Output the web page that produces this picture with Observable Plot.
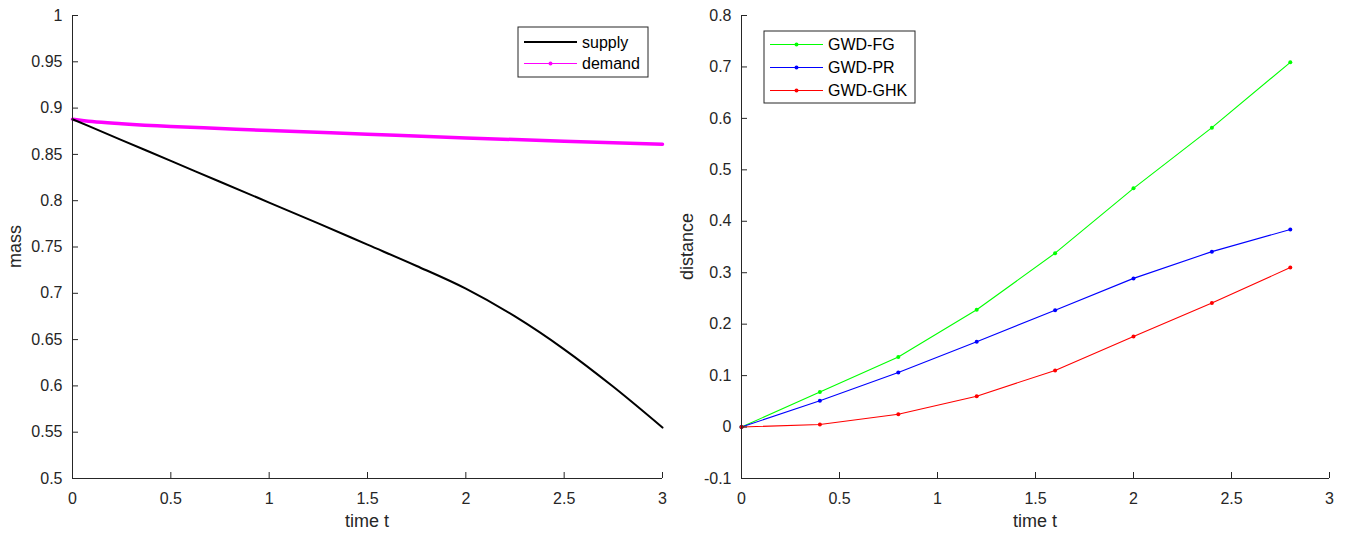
<!DOCTYPE html>
<html><head><meta charset="utf-8">
<script src="https://cdn.jsdelivr.net/npm/d3@7"></script>
<script src="https://cdn.jsdelivr.net/npm/@observablehq/plot@0.6"></script>
<style>
body{margin:0;background:#fff;}
#wrap{display:flex;width:1348px;height:535px;overflow:hidden;}
#wrap svg{display:block;flex:none;}
</style></head><body><div id="wrap"></div>
<script>
// ---- data ----
const tSupply = [0, 0.25, 0.5, 0.75, 1.0, 1.25, 1.5, 1.75, 2.0, 2.25, 2.5, 2.75, 3.0];
const supply  = [0.888, 0.8655, 0.843, 0.8205, 0.798, 0.7755, 0.7525, 0.7295, 0.705, 0.675, 0.6395, 0.599, 0.555];
const tDemand = [0, 0.1, 0.25, 0.5, 0.75, 1.0, 1.5, 2.0, 2.5, 3.0];
const demand  = [0.888, 0.8855, 0.8832, 0.8802, 0.878, 0.8758, 0.8718, 0.8678, 0.8642, 0.861];

const tDist  = [0, 0.4, 0.8, 1.2, 1.6, 2.0, 2.4, 2.8];
const gwdFG  = [0, 0.068, 0.136, 0.228, 0.338, 0.464, 0.582, 0.709];
const gwdPR  = [0, 0.051, 0.106, 0.166, 0.227, 0.289, 0.341, 0.384];
const gwdGHK = [0, 0.005, 0.025, 0.060, 0.110, 0.176, 0.241, 0.310];

const xTicks = [0, 0.5, 1, 1.5, 2, 2.5, 3];
const yTicksMass = [0.5, 0.55, 0.6, 0.65, 0.7, 0.75, 0.8, 0.85, 0.9, 0.95, 1];
const yTicksDist = [-0.1, 0, 0.1, 0.2, 0.3, 0.4, 0.5, 0.6, 0.7, 0.8];

const leftSeries  = [{name: "supply", color: "#000000", width: 2, dot: false},
                     {name: "demand", color: "#ff00ff", width: 1, dot: true}];
const rightSeries = [{name: "GWD-FG", color: "#00ff00", values: gwdFG},
                     {name: "GWD-PR", color: "#0000ff", values: gwdPR},
                     {name: "GWD-GHK", color: "#ff0000", values: gwdGHK}];

const FONT = "'Liberation Sans', Arial, Helvetica, sans-serif";
const AX = "#262626";
const W = 674, H = 535, MT = 15, MB = 57;

function panel(o) {
  const iw = W - o.ml - o.mr, ih = H - MT - MB;
  const svg = Plot.plot({
    width: W, height: H, marginTop: MT, marginBottom: MB, marginLeft: o.ml, marginRight: o.mr,
    style: {fontFamily: FONT, fontSize: "16px", color: AX, background: "#fff"},
    x: {domain: [0, 3]},
    y: {domain: o.yDomain},
    marks: [
      Plot.axisX({ticks: xTicks, tickSize: 0, tickPadding: 14, label: null, tickFormat: d => String(d), fill: AX, fontSize: 16}),
      Plot.axisY({ticks: o.yTicks, tickSize: 0, tickPadding: 10, label: null, tickFormat: d => String(d), fill: AX, fontSize: 16}),
      ...o.marks,
      Plot.tickX(xTicks, {x: d => d, stroke: AX, insetTop: ih - 6}),
      Plot.tickY(o.yTicks, {y: d => d, stroke: AX, insetRight: iw - 6}),
      Plot.ruleX([0], {stroke: AX}),
      Plot.ruleY([o.yDomain[0]], {stroke: AX})
    ]
  });
  const s = d3.select(svg);
  s.append("text").attr("x", o.ml + iw / 2).attr("y", 527).attr("text-anchor", "middle")
    .attr("fill", AX).style("font-size", "18px").style("font-family", FONT).text("time t");
  s.append("text").attr("transform", `translate(${o.ylabX},${MT + ih / 2}) rotate(-90)`)
    .attr("text-anchor", "middle").attr("fill", AX).style("font-size", "18px").style("font-family", FONT).text(o.ylabel);
  // legend
  const L = o.legend;
  const g = s.append("g").attr("text-anchor", "start");
  g.append("rect").attr("x", L.x).attr("y", L.y).attr("width", L.w).attr("height", L.h)
    .attr("fill", "#fff").attr("stroke", AX).attr("stroke-width", 1);
  L.items.forEach((it, i) => {
    const yy = L.y + L.first + i * L.step;
    g.append("line").attr("x1", L.x + 6).attr("x2", L.x + 59).attr("y1", yy).attr("y2", yy)
      .attr("stroke", it.color).attr("stroke-width", it.width || 1);
    if (it.dot) g.append("circle").attr("cx", L.x + 32.5).attr("cy", yy).attr("r", 2).attr("fill", it.color);
    g.append("text").attr("x", L.x + 64).attr("y", yy).attr("dy", "0.36em").attr("fill", "#000")
      .attr("text-anchor", "start")
      .style("font-size", "16px").style("font-family", FONT).text(it.name);
  });
  return svg;
}

const supplyData = tSupply.map((t, i) => ({t, v: supply[i]}));
const demandData = tDemand.map((t, i) => ({t, v: demand[i]}));

const left = panel({
  ml: 72, mr: 12, yDomain: [0.5, 1], yTicks: yTicksMass, ylabel: "mass", ylabX: 21,
  marks: [
    Plot.line(demandData, {x: "t", y: "v", stroke: "#ff00ff", strokeWidth: 3.5, curve: "monotone-x"}),
    Plot.line(supplyData, {x: "t", y: "v", stroke: "#000", strokeWidth: 2, curve: "monotone-x"})
  ],
  legend: {x: 518, y: 27, w: 130, h: 50, first: 15, step: 21.5,
           items: leftSeries}
});

const distMarks = [];
rightSeries.forEach(s => {
  const data = tDist.map((t, i) => ({t, v: s.values[i]}));
  distMarks.push(Plot.line(data, {x: "t", y: "v", stroke: s.color, strokeWidth: 1.1}));
  distMarks.push(Plot.dot(data, {x: "t", y: "v", fill: s.color, r: 2}));
});

const right = panel({
  ml: 67, mr: 19, yDomain: [-0.1, 0.8], yTicks: yTicksDist, ylabel: "distance", ylabX: 693 - 674,
  marks: distMarks,
  legend: {x: 90, y: 31, w: 151, h: 72, first: 13.5, step: 23,
           items: rightSeries.map(s => ({name: s.name, color: s.color, dot: true}))}
});

document.getElementById("wrap").append(left, right);
</script>
</body></html>
